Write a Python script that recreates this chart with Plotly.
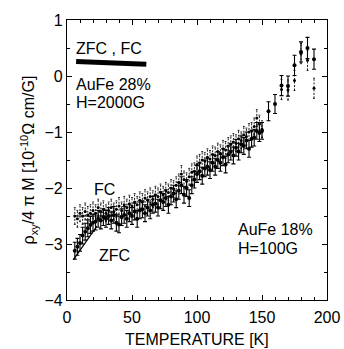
import plotly.graph_objects as go

# ---- data ----
zfc_T = [6, 8, 10, 12, 14, 16, 18, 20, 22, 24, 26, 28, 30, 32, 34, 36, 38, 40, 42, 44, 46, 48, 50,
         52, 54, 56, 58, 60, 62, 64, 66, 68, 70, 72, 74, 76, 78, 80, 82, 84, 86, 88, 90, 92, 94, 96,
         98, 100, 102, 104, 106, 108, 110, 112, 114, 116, 118, 120, 122, 124, 126, 128, 130, 132,
         134, 136, 138, 140, 142, 144, 146, 148, 150, 155, 160, 165, 170, 175, 180, 185, 190]
zfc_v = [-3.12, -3.05, -2.98, -2.85, -2.78, -2.72, -2.66, -2.62, -2.60, -2.55, -2.58, -2.52, -2.55,
         -2.50, -2.58, -2.48, -2.62, -2.65, -2.52, -2.48, -2.55, -2.45, -2.50, -2.42, -2.55, -2.40,
         -2.38, -2.45, -2.35, -2.40, -2.30, -2.28, -2.35, -2.22, -2.25, -2.18, -2.30, -2.15, -2.10,
         -2.20, -2.05, -1.95, -2.12, -2.00, -2.18, -1.95, -1.85, -1.75, -1.70, -1.78, -1.65, -1.62,
         -1.68, -1.55, -1.62, -1.50, -1.55, -1.45, -1.58, -1.40, -1.35, -1.42, -1.28, -1.35, -1.22,
         -1.25, -1.15, -1.30, -1.12, -1.10, -0.98, -1.02, -0.98, -0.63, -0.50, -0.17, -0.18, 0.19,
         0.43, 0.50, 0.30]
zfc_err = [0.15] * 73 + [0.17, 0.17, 0.18, 0.18, 0.18, 0.18, 0.19, 0.18]

fc_T = [6, 8, 10, 12, 14, 16, 18, 20, 22, 24, 26, 28, 30, 32, 34, 36, 38, 40, 42, 44, 46, 48, 50,
        52, 54, 56, 58, 60, 62, 64, 66, 68, 70, 72, 74, 76, 78, 80, 82, 84, 86, 88, 90, 92, 94, 96,
        98, 100, 102, 104, 106, 108, 110, 112, 114, 116, 118, 120, 122, 124, 126, 128, 130, 132,
        134, 136, 138, 140, 142, 144, 146, 148, 150, 165, 170, 175, 180, 185, 190]
fc_v = [-2.50, -2.55, -2.45, -2.50, -2.42, -2.48, -2.45, -2.40, -2.45, -2.35, -2.42, -2.38, -2.45,
        -2.40, -2.35, -2.42, -2.38, -2.32, -2.40, -2.30, -2.35, -2.28, -2.32, -2.25, -2.30, -2.22,
        -2.25, -2.18, -2.22, -2.15, -2.20, -2.12, -2.15, -2.08, -2.12, -2.05, -2.08, -2.00, -2.02,
        -1.95, -1.90, -1.75, -1.85, -1.88, -1.80, -1.72, -1.70, -1.58, -1.55, -1.50, -1.52, -1.45,
        -1.48, -1.40, -1.42, -1.35, -1.38, -1.30, -1.32, -1.25, -1.22, -1.18, -1.20, -1.12, -1.15,
        -1.05, -1.08, -1.00, -0.98, -0.90, -0.75, -0.85, -0.95, -0.24, -0.25, -0.08, 0.40, 0.28,
        -0.22]
fc_err = [0.15] * 73 + [0.18, 0.18, 0.18, 0.18, 0.18, 0.18]

zfc_guide_T = [5, 23]
zfc_guide_v = [-3.28, -2.68]
fc_guide_T = [5, 40]
fc_guide_v = [-2.5, -2.5]
legend_bar_T = [7, 61]
legend_bar_v = [0.26, 0.21]

FONT = "Liberation Sans, Arial, Helvetica, sans-serif"
FS = 16

fig = go.Figure()

# FC dashed error bars (built from the data)
bx, by = [], []
cx, cy = [], []
cap = 0.7
for t, v, e in zip(fc_T, fc_v, fc_err):
    bx += [t, t, None]
    by += [v - e, v + e, None]
    cx += [t - cap, t + cap, None, t - cap, t + cap, None]
    cy += [v - e, v - e, None, v + e, v + e, None]
fig.add_trace(go.Scatter(x=bx, y=by, mode="lines",
                         line=dict(color="black", width=0.9, dash="2px,1.5px"),
                         hoverinfo="skip", showlegend=False))
fig.add_trace(go.Scatter(x=cx, y=cy, mode="lines",
                         line=dict(color="black", width=0.9),
                         hoverinfo="skip", showlegend=False))
fig.add_trace(go.Scatter(x=fc_T, y=fc_v, mode="markers",
                         marker=dict(color="black", size=3), showlegend=False))

# ZFC solid error bars
fig.add_trace(go.Scatter(x=zfc_T, y=zfc_v, mode="markers",
                         marker=dict(color="black", size=4),
                         error_y=dict(type="data", array=zfc_err, color="black",
                                      thickness=1.1, width=2),
                         showlegend=False))

# guide lines
fig.add_trace(go.Scatter(x=zfc_guide_T, y=zfc_guide_v, mode="lines",
                         line=dict(color="black", width=1.2), showlegend=False))
fig.add_trace(go.Scatter(x=fc_guide_T, y=fc_guide_v, mode="lines",
                         line=dict(color="black", width=1.2), showlegend=False))
fig.add_trace(go.Scatter(x=legend_bar_T, y=legend_bar_v, mode="lines",
                         line=dict(color="black", width=5), showlegend=False))

ann = [
    ("ZFC , FC", 5.5, 0.5),
    ("AuFe 28%", 5.5, -0.15),
    ("H=2000G", 5.5, -0.47),
    ("FC", 19.5, -2.02),
    ("ZFC", 23, -3.2),
    ("AuFe 18%", 130, -2.74),
    ("H=100G", 130, -3.08),
]
for txt, x, y in ann:
    fig.add_annotation(x=x, y=y, text=txt, showarrow=False, xanchor="left", yanchor="middle",
                       font=dict(size=FS, color="black", family=FONT))

# x-axis title as paper-anchored text
fig.add_annotation(x=0.5, y=-0.14, xref="paper", yref="paper", text="TEMPERATURE [K]",
                   showarrow=False, xanchor="center", yanchor="middle",
                   font=dict(size=FS, color="black", family=FONT))

axis_common = dict(showline=True, linecolor="black", linewidth=1.3, mirror="ticks",
                   ticks="inside", ticklen=5, tickwidth=1, tickcolor="black",
                   showgrid=False, zeroline=False,
                   tickfont=dict(size=FS, color="black", family=FONT))
fig.update_xaxes(range=[0, 200], dtick=50, tick0=0, ticklabelstandoff=3, automargin=False,
                 minor=dict(dtick=10, ticks="inside", ticklen=3, tickcolor="black"),
                 **axis_common)
fig.update_yaxes(range=[-4, 1], dtick=1, tick0=0,
                 minor=dict(dtick=0.5, ticks="inside", ticklen=3, tickcolor="black"),
                 title=dict(text="ρ<sub>xy</sub>/4 π M [10<sup>-10</sup>Ω cm/G]",
                            font=dict(size=FS, color="black", family=FONT), standoff=5),
                 **axis_common)

fig.update_layout(width=344, height=349, margin=dict(l=67, r=17, t=16, b=49),
                  paper_bgcolor="white", plot_bgcolor="white", showlegend=False)

fig.write_html("out.html")
